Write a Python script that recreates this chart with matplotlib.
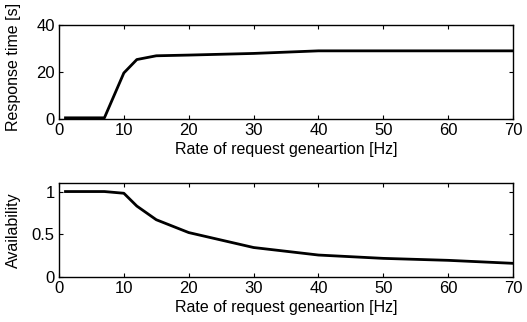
import matplotlib.pyplot as plt

plt.rcParams['font.family'] = ['Liberation Sans', 'DejaVu Sans']

rate_top = [1, 7, 10, 12, 15, 20, 30, 40, 50, 60, 70]
response_time = [0.5, 0.5, 19.6, 25.3, 26.9, 27.2, 27.9, 29.0, 29.0, 29.0, 29.0]

rate_bot = [1, 7, 10, 12, 15, 20, 30, 40, 50, 60, 70]
availability = [1.0, 1.0, 0.98, 0.83, 0.67, 0.52, 0.345, 0.257, 0.218, 0.195, 0.16]

xlabel = 'Rate of request geneartion [Hz]'

fig = plt.figure(figsize=(5.27, 3.22), dpi=100)
ax1 = fig.add_axes([59 / 527, 1 - 119 / 322, 454 / 527, 94 / 322])
ax2 = fig.add_axes([59 / 527, 1 - 277 / 322, 454 / 527, 94 / 322])

ax1.plot(rate_top, response_time, 'k-', lw=2)
ax1.set_xlim(0, 70)
ax1.set_ylim(0, 40)
ax1.set_yticks([0, 20, 40])
ax1.set_ylabel('Response time [s]', fontsize=11.5, va='center')
ax1.yaxis.set_label_coords(-0.1, 0.55)

ax2.plot(rate_bot, availability, 'k-', lw=2)
ax2.set_xlim(0, 70)
ax2.set_ylim(0, 1.1)
ax2.set_yticks([0, 0.5, 1])
ax2.set_yticklabels(['0', '0.5', '1'])
ax2.set_ylabel('Availability', fontsize=11.5, va='center')
ax2.yaxis.set_label_coords(-0.1, 0.5)

for ax in (ax1, ax2):
    ax.set_xticks(range(0, 71, 10))
    ax.set_xlabel(xlabel, fontsize=11.5, labelpad=3)
    ax.tick_params(direction='in', top=True, right=True, labelsize=12, length=3)
    ax.tick_params(axis='x', pad=3)
    ax.tick_params(axis='y', pad=3)
    for s in ax.spines.values():
        s.set_linewidth(1)

fig.savefig('out.png', dpi=100)
